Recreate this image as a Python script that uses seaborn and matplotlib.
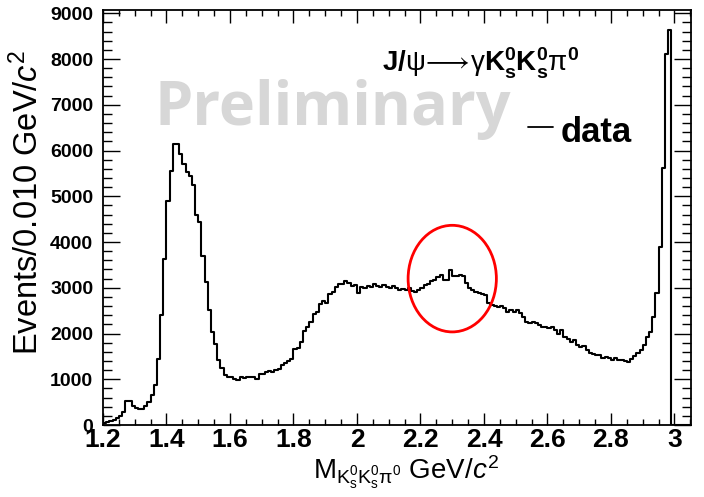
import numpy as np
import pandas as pd
import matplotlib
matplotlib.use('Agg')
import matplotlib.pyplot as plt
from matplotlib.patches import Ellipse
from matplotlib.ticker import MultipleLocator
import seaborn as sns

# histogram layout: 0.010 GeV bins starting at 1.20 GeV
mass_low = 1.20
bin_width = 0.010

# events per bin (1.20 ... 2.99), empty above 2.99
counts = [
    40, 60, 90, 110, 160, 190, 280, 520, 530, 420,
    370, 350, 360, 420, 500, 650, 870, 1450, 2410, 3630,
    4900, 5560, 6150, 6150, 5920, 5710, 5530, 5440, 5240, 4600,
    4430, 3690, 3130, 2510, 2040, 1780, 1420, 1240, 1100, 1060,
    1040, 1000, 990, 1040, 1020, 1050, 1040, 1060, 1010, 1110,
    1120, 1150, 1170, 1150, 1200, 1230, 1320, 1350, 1400, 1450,
    1660, 1680, 1810, 2060, 2140, 2260, 2430, 2470, 2640, 2700,
    2660, 2870, 2910, 3020, 3080, 3090, 3140, 3100, 3040, 3060,
    2890, 3020, 2990, 3040, 3020, 3080, 3040, 3010, 3060, 3020,
    2990, 3030, 2990, 2960, 2980, 2950, 2990, 2920, 2910, 2950,
    2990, 3060, 3090, 3150, 3170, 3240, 3270, 3160, 3160, 3380,
    3250, 3250, 3270, 3250, 3100, 3000, 2950, 2910, 2890, 2860,
    2840, 2660, 2620, 2600, 2580, 2600, 2550, 2480, 2510, 2480,
    2510, 2440, 2370, 2260, 2240, 2260, 2220, 2180, 2150, 2150,
    2110, 2150, 2070, 2000, 2070, 1930, 1870, 1820, 1860, 1750,
    1710, 1720, 1640, 1580, 1550, 1530, 1530, 1460, 1490, 1460,
    1430, 1460, 1420, 1430, 1400, 1380, 1440, 1510, 1570, 1640,
    1750, 1930, 2040, 2370, 2880, 3890, 5610, 8110, 8640, 0,
    0, 0, 0, 0, 0, 0,
]

x_ticks = [1.2, 1.4, 1.6, 1.8, 2.0, 2.2, 2.4, 2.6, 2.8, 3.0]
x_tick_labels = ['1.2', '1.4', '1.6', '1.8', '2', '2.2', '2.4', '2.6', '2.8', '3']
y_ticks = [0, 1000, 2000, 3000, 4000, 5000, 6000, 7000, 8000, 9000]
y_tick_labels = ['0', '1000', '2000', '3000', '4000', '5000', '6000', '7000', '8000', '9000']

# region marked by the red ellipse (centre mass, centre events, widths)
mark_center = (2.30, 3200)
mark_size = (0.278, 2330)

edges = np.round(mass_low + bin_width * np.arange(len(counts) + 1), 3)
df = pd.DataFrame({'mass': edges[:-1] + bin_width / 2, 'events': counts})

sns.set_theme(style='ticks')
plt.rcParams['font.family'] = ['Liberation Sans', 'DejaVu Sans']
plt.rcParams['mathtext.fontset'] = 'custom'
plt.rcParams['mathtext.rm'] = 'Liberation Sans'
plt.rcParams['mathtext.it'] = 'Liberation Sans:italic'
plt.rcParams['mathtext.bf'] = 'Liberation Sans:bold'
plt.rcParams['mathtext.default'] = 'regular'
plt.rcParams['mathtext.fallback'] = 'stixsans'
plt.rcParams['text.color'] = 'black'
plt.rcParams['axes.labelcolor'] = 'black'

fig = plt.figure(figsize=(7.04, 4.97), dpi=100)
ax = fig.add_axes([103 / 704, 1 - 425 / 497, 588 / 704, 415 / 497])

sns.histplot(data=df, x='mass', weights='events', bins=list(edges), element='step',
             fill=False, color='black', linewidth=1.5, ax=ax)

ax.set_xlim(1.2, 3.052)
ax.set_ylim(0, 9072)

# frame and ROOT-style inward ticks on all sides
for sp in ax.spines.values():
    sp.set_visible(True)
    sp.set_linewidth(1.3)
    sp.set_color('black')
ax.set_xticks(x_ticks)
ax.set_xticklabels(x_tick_labels)
ax.set_yticks(y_ticks)
ax.set_yticklabels(y_tick_labels)
ax.xaxis.set_minor_locator(MultipleLocator(0.05))
ax.yaxis.set_minor_locator(MultipleLocator(200))
ax.tick_params(direction='in', top=True, right=True, which='both', width=1.0,
               color='black', labelcolor='black')
ax.tick_params(axis='x', which='major', length=9, labelsize=19, pad=2.5)
ax.tick_params(axis='x', which='minor', length=4.5)
ax.tick_params(axis='y', which='major', length=12.5, labelsize=14, pad=7)
ax.tick_params(axis='y', which='minor', length=6.5)
for lab in ax.get_xticklabels() + ax.get_yticklabels():
    lab.set_fontweight('bold')

ax.set_xlabel(r'M$_{\mathregular{K^0_sK^0_s}\pi^0}$ GeV/$\mathit{c}^2$', fontsize=20)
ax.set_ylabel(r'Events/0.010 GeV/$\mathit{c}^2$', fontsize=23.5)
ax.xaxis.set_label_coords(0.515, -0.068)
ax.yaxis.set_label_coords(-0.098, 0.537)

ax.text(0.088, 0.724, 'Preliminary', transform=ax.transAxes, fontsize=44,
        fontweight='bold', family=['Open Sans', 'DejaVu Sans'], color='#d7d7d7',
        ha='left', va='baseline', zorder=0)
ax.text(0.474, 0.851,
        r'$\mathbf{J/}\mathrm{\psi\!\longrightarrow\!\gamma}\mathbf{K^0_sK^0_s}\mathrm{\pi}^\mathbf{0}$',
        transform=ax.transAxes, fontsize=20, ha='left', va='baseline')

# legend entry drawn as in the original
ax.plot([0.7223, 0.7658], [0.7188, 0.7188], transform=ax.transAxes, color='black', lw=1.3)
ax.text(0.779, 0.683, 'data', transform=ax.transAxes, fontsize=25, fontweight='bold',
        ha='left', va='baseline')

ax.add_patch(Ellipse(mark_center, mark_size[0], mark_size[1], fill=False,
                     edgecolor='#ff0000', lw=2.0, zorder=5))

fig.savefig('out.png', dpi=100)
